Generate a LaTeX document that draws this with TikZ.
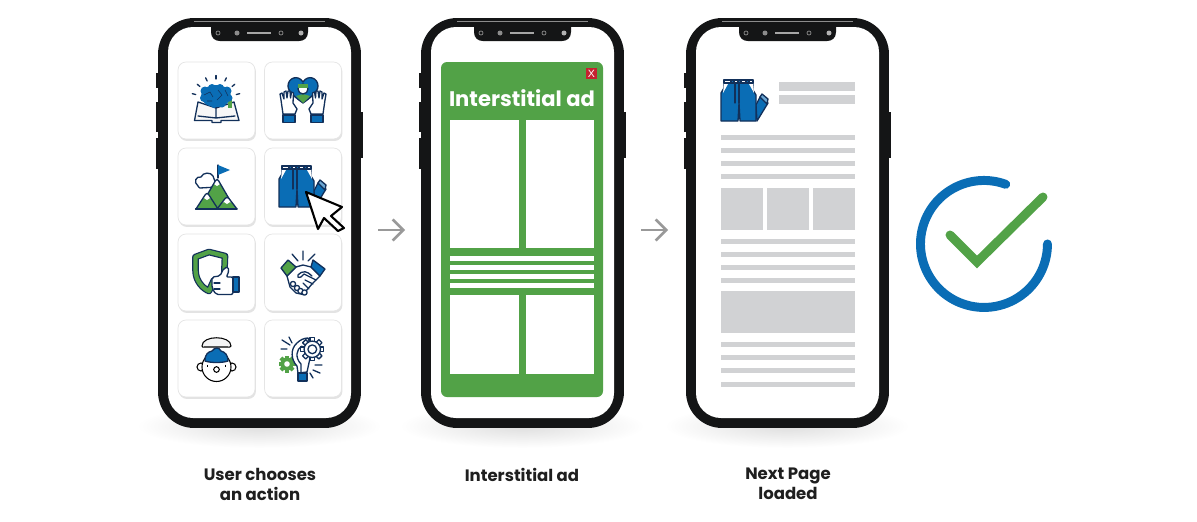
\documentclass[tikz,border=0pt]{standalone}
\usepackage{fontspec}
\setmainfont{Poppins}
\newfontfamily\closefont{Liberation Sans}
\usetikzlibrary{positioning, arrows.meta, shadows}
\definecolor{navy}{HTML}{12305A}
\definecolor{iconblue}{HTML}{0A6DB5}
\definecolor{adgreen}{HTML}{52A247}
\definecolor{bargray}{HTML}{D1D2D4}
\definecolor{phoneblack}{HTML}{141516}
\definecolor{closered}{HTML}{C4222F}

\newcommand{\phone}[2]{
\begin{scope}[shift={(#2)}]
\shade[inner color=black!13, outer color=white] (101,408) ellipse (122 and 22);
\fill[phoneblack] (-2,55) rectangle (1,70);
\fill[phoneblack] (-2,84) rectangle (1,114);
\fill[phoneblack] (-2,120) rectangle (1,151);
\fill[phoneblack] (201,94) rectangle (204.5,140);
\node[phonebody](#1) at (101.5,205) {};
\draw[black!45, line width=.6pt] (36,3.5) -- (167,3.5);
\fill[white, rounded corners=.5cm] (10,9) rectangle (193,400);
\fill[phoneblack] (53,8) -- (53,14) .. controls (53,20) and (57,23) .. (62,23) -- (141,23) .. controls (146,23) and (150,20) .. (150,14) -- (150,8) -- cycle;
\draw[black!45, line width=.4pt] (60,15) circle (2);
\fill[black!45] (79,15) circle (2.5);
\fill[black!35] (89,14) rectangle (113,16);
\draw[black!45, line width=.4pt] (123,15) circle (2);
\fill[black!30] (143,15) circle (2.5);
\end{scope}}

\newcommand{\jeans}[1]{
\begin{scope}[shift={(#1)}]
\draw[ico, fill=iconblue] (35,26) -- (39,18) -- (47,24) -- (36,42) -- cycle;
\draw[ico, fill=iconblue!60] (39,18) -- (41,15) -- (47,20) -- (46,25) -- cycle;
\draw[ico, fill=iconblue] (3,1) -- (32,1) -- (32,11) -- (35,16) -- (35,42) -- (19,42) -- (18,24) -- (17,42) -- (0,42) -- (0,14) -- (3,9) -- cycle;
\draw[ico, fill=white] (3,1) rectangle (32,4);
\draw[ico, fill=iconblue] (10,1) rectangle (13,4);
\draw[ico, fill=iconblue] (17,1) rectangle (20,4);
\draw[ico, fill=iconblue] (25,1) rectangle (28,4);
\draw[ico] (18,4) -- (18,24);
\draw[ico] (14,4) -- (14,24);
\fill[white] (3,5) -- (7,5) -- (2,14) -- cycle;
\fill[white] (32,5) -- (28,5) -- (33,14) -- cycle;
\end{scope}}

\newcommand{\hand}{
\draw[ico, fill=white] (283,114) -- (281,100) -- (280,94) -- (282,93) -- (284,99) -- (284,92) -- (286,91) -- (287,98) -- (288,91) -- (290,91) -- (290.5,98) -- (291.5,92) -- (293.5,93) -- (293,103) -- (297,109) -- (295,114) -- cycle;
\draw[ico, fill=iconblue] (283,115) rectangle (295,122.5);
}

\newcommand{\snowpeak}[3]{
\fill[adgreen, rounded corners=.06cm] (#1-#3,209) -- (#1,#2) -- (#1+#3,209) -- cycle;
\begin{scope}
\clip[rounded corners=.06cm] (#1-#3,209) -- (#1,#2) -- (#1+#3,209) -- cycle;
\fill[white] (#1-#3,#2-1) -- (#1+#3,#2-1) -- (#1+#3,#2+9) -- (#1+3,#2+6) -- (#1,#2+8) -- (#1-3,#2+6) -- (#1-#3,#2+9) -- cycle;
\end{scope}
\draw[ico, rounded corners=.06cm] (#1-#3,209) -- (#1,#2) -- (#1+#3,209);
}

\begin{document}
\begin{tikzpicture}[x=0.02cm, y=-0.02cm]
\tikzstyle{phonebody}=[draw=none, fill=phoneblack, rectangle, rounded corners=0.72cm, minimum width=4.06cm, minimum height=8.2cm]
\tikzstyle{card}=[draw=black!10, fill=white, rectangle, rounded corners=0.16cm, minimum width=1.54cm, minimum height=1.54cm, drop shadow={opacity=.22, shadow xshift=.02cm, shadow yshift=-.04cm}]
\tikzstyle{caption}=[font=\fontsize{9.4}{11.2}\selectfont\bfseries, text=black!88, align=center, anchor=north]
\tikzstyle{ico}=[draw=navy, line width=.75pt, line join=round, line cap=round]
\tikzstyle{flow}=[draw=black!40, line width=1.5pt, -{Straight Barb[length=6pt, width=12pt]}]

\useasboundingbox (0,0) rectangle (1197,521);
\fill[white] (0,0) rectangle (1197,521);

\phone{phoneone}{158,18}
\phone{phonetwo}{421,18}
\phone{phonethree}{686,18}

\node[card](brain) at (216.5,100.5) {};
\node[card](heart) at (303,100.5) {};
\node[card](peak) at (216.5,186.5) {};
\node[card](shop) at (303,186.5) {};
\node[card](shield) at (216.5,272.5) {};
\node[card](deal) at (303,272.5) {};
\node[card](kid) at (216.5,358.5) {};
\node[card](idea) at (303,358.5) {};

\foreach \a in {-165,-140,-115,-90,-65,-40,-15}
  \draw[ico] (216,100) ++(\a:21) -- ++(\a:3.5);
\draw[ico, fill=black!3] (194.5,120.5) -- (198,102) -- (216,108) -- (234,102) -- (239,120.5) -- (221,120.5) -- (221,122.5) -- (212,122.5) -- (212,120.5) -- cycle;
\draw[ico] (198,116) -- (216,118) -- (235,116) (216,108) -- (216,118);
\fill[adgreen] (228,98) rectangle (232,108);
\fill[iconblue] (216,96) ellipse (15 and 11);
\fill[iconblue] (205,91) circle (4.5) (212,88) circle (4) (220,88) circle (4) (227,91) circle (4.5) (204,98) circle (4) (229,98) circle (3.5) (222,104) circle (3.5) (214,105) circle (3);
\draw[navy, line width=.3pt] (204,95) -- (210,92) -- (213,97) (218,90) -- (222,95) -- (217,100) (207,101) -- (212,101) (225,90) -- (228,96);

\draw[ico, fill=iconblue] (303,103) .. controls (296,98) and (288,92) .. (288,86) .. controls (288,78) and (298,74) .. (303,82) .. controls (308,74) and (318,78) .. (318,86) .. controls (318,92) and (310,98) .. cycle;
\fill[adgreen] (296,96) -- (303,94) -- (310,96) -- (303,103) -- cycle;
\draw[ico, fill=white] (303,89) circle (5);
\fill[adgreen] (298,84) rectangle (308,87.5);
\hand
\begin{scope}[shift={(606,0)}, xscale=-1]
\hand
\end{scope}

\draw[ico] (218,165) -- (218,178);
\fill[iconblue] (218,165) -- (230,170) -- (218,175) -- cycle;
\draw[ico, fill=white] (198,186) .. controls (193,182) and (196,176) .. (201,177) .. controls (203,172) and (211,172) .. (213,176) -- (217,187) -- (200,188) .. controls (199,188) and (199,187) .. cycle;
\snowpeak{217}{178}{18}
\snowpeak{207}{192}{11}
\snowpeak{227}{196}{10}
\draw[ico] (195.5,209) -- (237,209);

\jeans{279,165}
\node[draw=none, inner sep=0pt](cursor) at (325,211) {};
\draw[black, line width=1.2pt, fill=white, line join=round] (306,192) -- (342,207) -- (331,216) -- (344,228) -- (338,231) -- (324,218) -- (318,229) -- cycle;

\draw[navy, line width=3.8pt, line join=round] (195.5,257) -- (195.5,270) .. controls (195.5,282) and (204,289) .. (209,291) -- (214,280) -- (224,280) -- (225,256) -- (209,252) -- cycle;
\draw[adgreen, line width=2.4pt, line join=round] (195.5,257) -- (195.5,270) .. controls (195.5,282) and (204,289) .. (209,291) -- (214,280) -- (224,280) -- (225,256) -- (209,252) -- cycle;
\draw[ico, fill=white, rounded corners=.04cm] (212,277) -- (220,276) -- (224,268) -- (228,267) .. controls (229,271) and (228,274) .. (226,277) -- (233,277) -- (233,294.5) -- (216,294.5) -- (212,288) -- cycle;
\draw[ico] (214,283) -- (220,283) (214,289) -- (220,289);
\draw[ico, fill=iconblue] (233,277) rectangle (239,292);

\draw[ico] (292,254) -- (298,261) (303,251) -- (303,260) (315,254) -- (308,261);
\draw[ico, fill=white] (287,276) -- (296,267) -- (303,265) -- (311,267) -- (320,276) -- (312,284) -- (303,294.5) -- (296,293) -- (290,287) -- cycle;
\draw[ico] (312,276) .. controls (307,271) and (303,270) .. (298,275) .. controls (297,277) and (298,278) .. (301,277) -- (304,274) -- (316,280) (305,280) -- (313,284) (303,283) -- (309,289);
\foreach \x/\y in {293/284,297/288,300.5/291,304.5/292.5}
  \draw[ico, fill=white] (\x,\y) circle (2.6);
\draw[ico, fill=adgreen] (281,268) -- (288,260) -- (296,267) -- (287,276) -- cycle;
\draw[ico, fill=iconblue] (313,260) -- (325,269) -- (320,276) -- (311,267) -- cycle;

\draw[black, line width=.6pt, fill=black!4] (202,346) .. controls (202,335) and (231,335) .. (231,346) .. controls (231,347.5) and (229,347) .. (227,347) -- (205,347) .. controls (203,347) and (202,347.5) .. cycle;
\draw[black, line width=.6pt, fill=white] (201,367) circle (4);
\draw[black, line width=.6pt, fill=white] (232,367) circle (4);
\draw[black, line width=.6pt, fill=white] (216.5,367) circle (14.5);
\draw[ico, fill=iconblue] (205,361) .. controls (205,354) and (208,352) .. (212,351) .. controls (215,347) and (219,347) .. (221,351) .. controls (225,352) and (228,355) .. (228,361) .. controls (222,363) and (211,363) .. cycle;
\draw[black, line width=.7pt] (207.5,364.5) -- (207.5,366.5) (225.5,364.5) -- (225.5,366.5);
\draw[black, line width=.6pt] (216.5,369.5) circle (2.8);

\foreach \a in {0,45,...,315}
  \fill[adgreen] (287,364) ++(\a:5) ++(\a+90:2) -- ++(\a:3.5) -- ++(\a-90:4) -- ++(\a:-3.5) -- cycle;
\fill[adgreen] (287,364) circle (6.5);
\fill[white] (287,364) circle (2.8);
\draw[ico, fill=white] (298,373) -- (297,366) .. controls (291,360) and (290,349) .. (297,343) .. controls (300,340) and (304,338) .. (308,338) -- (312,349) -- (307,372) -- cycle;
\draw[ico] (301,372) -- (301,364) .. controls (295,358) and (296,349) .. (302,346);
\foreach \a in {0,45,...,315}
  \draw[ico, fill=white] (312.3,349.3) ++(\a:8) ++(\a+90:2.2) -- ++(\a:3.5) -- ++(\a-90:4.4) -- ++(\a:-3.5);
\draw[ico, fill=white] (312.3,349.3) circle (8.2);
\draw[ico] (312.3,349.3) circle (4.4);
\draw[ico, fill=iconblue] (298,373) rectangle (307,381);
\draw[ico] (282,340) -- (290,345) (281,349) -- (287,349) (289,337) -- (292,343) (315,365) -- (322,365) (313,370) -- (320,373) (310,373) -- (313,378);

\jeans{721,79}

\fill[adgreen, rounded corners=.12cm](441,62) rectangle (603,397);
\node[rectangle, fill=closered, minimum size=.22cm, inner sep=0pt, text=white, font=\closefont\fontsize{6}{6}\selectfont](closebtn) at (591.5,73.5) {X};
\node[font=\fontsize{12}{14}\selectfont\bfseries, text=white, inner sep=0pt](adtitle) at (522,98) {Interstitial ad};
\foreach \x/\w in {450/519,526/594} {
  \fill[white] (\x,120) rectangle (\w,248);
  \fill[white] (\x,295) rectangle (\w,374);
}
\foreach \y in {256,265,274,283}
  \fill[white] (450,\y) rectangle (594,\y+4.5);

\fill[bargray] (779,82) rectangle (855,91);
\fill[bargray] (779,95) rectangle (855,104);
\foreach \y in {135,148,161,174,239,252,265,278,342,355,368,382}
  \fill[bargray] (721,\y) rectangle (855,\y+4.5);
\foreach \x in {721,767,813}
  \fill[bargray] (\x,188) rectangle (\x+42,230);
\fill[bargray] (721,291) rectangle (855,333);

\coordinate(flowonestart) at (378,230);
\coordinate(flowoneend) at (405,230);
\coordinate(flowtwostart) at (641,230);
\coordinate(flowtwoend) at (668,230);
\path[flow] (flowonestart) -- (flowoneend);
\path[flow] (flowtwostart) -- (flowtwoend);

\draw[iconblue, line width=5.1pt, line cap=round] (1005.7,184.3) arc[start angle=70, end angle=360, radius=1.27cm];
\draw[adgreen, line width=5.1pt, line cap=round, miter limit=4] (950,235) -- (977,262) -- (1043,197);

\node[caption](capone) at (260,462) {User chooses\\an action};
\node[caption](captwo) at (522,462) {Interstitial ad};
\node[caption](capthree) at (788,462) {Next Page\\loaded};
\end{tikzpicture}
\end{document}
